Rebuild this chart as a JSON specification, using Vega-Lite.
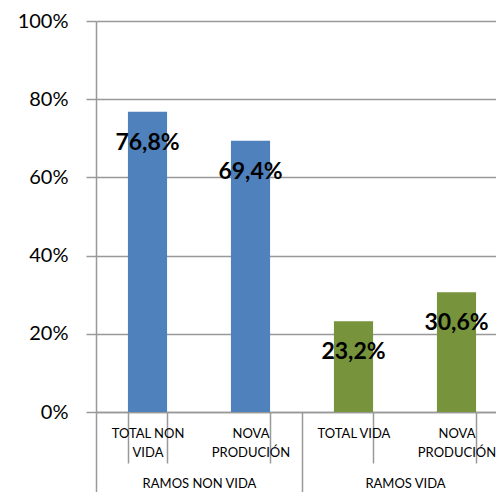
{
  "$schema": "https://vega.github.io/schema/vega-lite/v6.json",
  "autosize": "none",
  "padding": {"left": 96, "top": 21, "right": 0, "bottom": 80},
  "width": 412,
  "height": 391,
  "background": "white",
  "config": {
    "view": {"stroke": null},
    "font": "Lato",
    "axis": {"labelFont": "Lato", "titleFont": "Lato"},
    "locale": {
      "number": {"decimal": ",", "thousands": ".", "grouping": [3], "currency": ["", " €"]}
    }
  },
  "data": {
    "values": [
      {"ramo": "RAMOS NON VIDA", "categoria": "TOTAL NON VIDA", "valor": 0.768},
      {"ramo": "RAMOS NON VIDA", "categoria": "NOVA PRODUCIÓN (NON VIDA)", "valor": 0.694},
      {"ramo": "RAMOS VIDA", "categoria": "TOTAL VIDA", "valor": 0.232},
      {"ramo": "RAMOS VIDA", "categoria": "NOVA PRODUCIÓN (VIDA)", "valor": 0.306}
    ]
  },
  "resolve": {"scale": {"x": "independent"}, "axis": {"x": "independent"}},
  "layer": [
    {
      "layer": [
        {
          "mark": {"type": "bar"},
          "encoding": {
            "x": {
              "field": "categoria",
              "type": "nominal",
              "sort": null,
              "scale": {"paddingInner": 0.62, "paddingOuter": 0.31},
              "axis": {
                "orient": "bottom",
                "title": null,
                "labelAngle": 0,
                "labelExpr": "datum.value == 'TOTAL NON VIDA' ? ['TOTAL NON', 'VIDA'] : datum.value == 'TOTAL VIDA' ? 'TOTAL VIDA' : (datum.value == 'NOVA PRODUCIÓN (NON VIDA)' || datum.value == 'NOVA PRODUCIÓN (VIDA)') ? ['NOVA', 'PRODUCIÓN'] : ''",
                "labelFontSize": 13,
                "labelLineHeight": 19,
                "labelColor": "#000000",
                "labelBaseline": "top",
                "labelPadding": -36,
                "labelOverlap": false,
                "tickBand": "extent",
                "tickSize": 51,
                "tickColor": "#999999",
                "tickWidth": 1.5,
                "domainColor": "#999999",
                "domainWidth": 1.5,
                "grid": false
              }
            },
            "y": {
              "field": "valor",
              "type": "quantitative",
              "scale": {"domain": [0, 1], "nice": false},
              "axis": {
                "title": null,
                "format": ".0%",
                "values": [0, 0.2, 0.4, 0.6, 0.8, 1],
                "labelFontSize": 20,
                "labelColor": "#000000",
                "labelPadding": 18,
                "tickSize": 10,
                "tickColor": "#999999",
                "tickWidth": 1.5,
                "domainColor": "#999999",
                "domainWidth": 1.5,
                "grid": true,
                "gridColor": "#999999",
                "gridWidth": 1.5
              }
            },
            "color": {
              "field": "ramo",
              "type": "nominal",
              "scale": {"domain": ["RAMOS NON VIDA", "RAMOS VIDA"], "range": ["#4F81BD", "#77933C"]},
              "legend": null
            }
          }
        },
        {
          "mark": {"type": "text", "fontWeight": "bold", "fontSize": 23, "baseline": "middle", "dy": 31, "color": "#000000"},
          "encoding": {
            "x": {"field": "categoria", "type": "nominal", "sort": null},
            "y": {"field": "valor", "type": "quantitative"},
            "text": {"field": "valor", "type": "quantitative", "format": ".1%"}
          }
        }
      ]
    },
    {
      "mark": {"type": "bar", "opacity": 0},
      "encoding": {
        "x": {
          "field": "ramo",
          "type": "nominal",
          "sort": null,
          "scale": {"paddingInner": 0, "paddingOuter": 0},
          "axis": {
            "orient": "bottom",
            "title": null,
            "labelAngle": 0,
            "labelFontSize": 13,
            "labelColor": "#000000",
            "labelBaseline": "top",
            "labelPadding": -16,
            "labelOverlap": false,
            "tickBand": "extent",
            "tickSize": 81,
            "tickColor": "#999999",
            "tickWidth": 1.5,
            "domain": false,
            "grid": false
          }
        },
        "y": {"field": "valor", "type": "quantitative"}
      }
    }
  ]
}
